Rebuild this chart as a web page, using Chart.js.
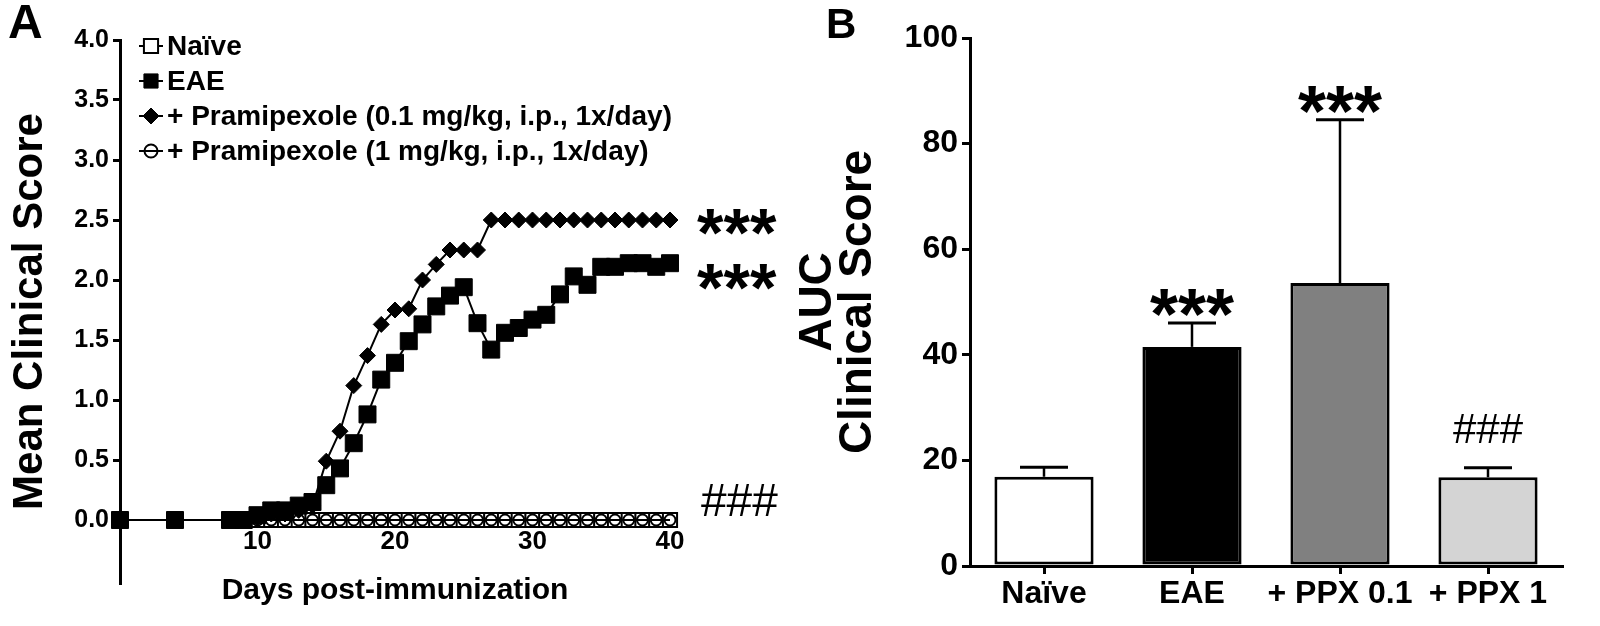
<!DOCTYPE html>
<html>
<head>
<meta charset="utf-8">
<script src="https://cdn.jsdelivr.net/npm/chart.js@4.4.1/dist/chart.umd.min.js"></script>
<style>
  html, body { margin: 0; padding: 0; background: #fff; }
  #wrap { position: relative; width: 1600px; height: 626px; }
  #boxA { position: absolute; left: 0; top: 0; width: 790px; height: 626px; }
  #boxB { position: absolute; left: 790px; top: 0; width: 810px; height: 626px; }
</style>
</head>
<body>
<div id="wrap">
  <div id="boxA"><canvas id="chartA"></canvas></div>
  <div id="boxB"><canvas id="chartB"></canvas></div>
</div>
<script>
const FONT = '"Liberation Sans", Arial, Helvetica, sans-serif';

// ---- panel A: clinical score over time ----
const days = [0, 4, 8, 9, 10, 11, 12, 13, 14, 15, 16, 17, 18, 19, 20, 21, 22, 23, 24, 25, 26, 27, 28, 29, 30, 31, 32, 33, 34, 35, 36, 37, 38, 39, 40];
const naive = [0, 0, 0, 0, 0, 0, 0, 0, 0, 0, 0, 0, 0, 0, 0, 0, 0, 0, 0, 0, 0, 0, 0, 0, 0, 0, 0, 0, 0, 0, 0, 0, 0, 0, 0];
const eae = [0, 0, 0, 0, 0.04, 0.08, 0.08, 0.12, 0.15, 0.29, 0.43, 0.64, 0.88, 1.17, 1.31, 1.49, 1.63, 1.78, 1.87, 1.94, 1.64, 1.42, 1.56, 1.60, 1.67, 1.71, 1.88, 2.03, 1.96, 2.11, 2.11, 2.14, 2.14, 2.11, 2.14];
const ppxLow = [0, 0, 0, 0, 0.02, 0.05, 0.05, 0.08, 0.12, 0.49, 0.74, 1.12, 1.37, 1.63, 1.75, 1.76, 2.00, 2.13, 2.25, 2.25, 2.25, 2.50, 2.50, 2.50, 2.50, 2.50, 2.50, 2.50, 2.50, 2.50, 2.50, 2.50, 2.50, 2.50, 2.50];
const ppxHigh = [0, 0, 0, 0, 0, 0, 0, 0, 0, 0, 0, 0, 0, 0, 0, 0, 0, 0, 0, 0, 0, 0, 0, 0, 0, 0, 0, 0, 0, 0, 0, 0, 0, 0, 0];
const seriesNamesA = ['Naïve', 'EAE', '+ Pramipexole (0.1 mg/kg, i.p., 1x/day)', '+ Pramipexole (1 mg/kg, i.p., 1x/day)'];
const yTicksA = [0, 0.5, 1, 1.5, 2, 2.5, 3, 3.5, 4];
const xTicksA = [10, 20, 30, 40];
const sigTextA = ['***', '***', '###'];
const sigValueA = [2.53, 2.07, 0.17];

// ---- panel B: area under the curve ----
const groupsB = ['Naïve', 'EAE', '+ PPX 0.1', '+ PPX 1'];
const aucMean = [16.9, 41.5, 53.6, 16.8];
const aucUpper = [18.7, 46.0, 84.5, 18.6];
const sigTextB = ['', '***', '***', '###'];
const yTicksB = [0, 20, 40, 60, 80, 100];

Chart.defaults.font.family = FONT;
Chart.defaults.color = '#000';

function toPoints(values) {
  return days.map(function (d, i) { return { x: d, y: values[i] }; });
}

function isStars(t) { return t.charAt(0) === '*'; }

const panelA = {
  id: 'panelA',
  afterDraw: function (chart) {
    const ctx = chart.ctx;
    const area = chart.chartArea;
    const y = chart.scales.y;
    ctx.save();
    ctx.fillStyle = '#000';
    ctx.font = 'bold 48px ' + FONT;
    ctx.textAlign = 'left';
    ctx.textBaseline = 'alphabetic';
    ctx.fillText('A', 8, 38);

    // legend
    chart.data.datasets.forEach(function (ds, i) {
      const ly = 46 + i * 35;
      ctx.strokeStyle = '#000';
      ctx.lineWidth = 2;
      ctx.beginPath();
      ctx.moveTo(139, ly);
      ctx.lineTo(163, ly);
      ctx.stroke();
      ctx.fillStyle = ds.pointBackgroundColor;
      ctx.lineWidth = ds.pointBorderWidth;
      Chart.helpers.drawPoint(ctx, {
        pointStyle: ds.pointStyle,
        radius: ds.legendRadius,
        borderWidth: ds.pointBorderWidth,
        rotation: 0
      }, 151, ly);
      ctx.fillStyle = '#000';
      ctx.font = 'bold 28px ' + FONT;
      ctx.textBaseline = 'middle';
      ctx.fillText(ds.label, 167, ly + 1);
    });

    // significance marks
    ctx.textBaseline = 'alphabetic';
    ctx.textAlign = 'left';
    sigTextA.forEach(function (t, i) {
      const py = y.getPixelForValue(sigValueA[i]);
      if (isStars(t)) {
        ctx.font = 'bold 68px ' + FONT;
        ctx.fillText(t, area.right + 27, py + 0.58 * 68);
      } else {
        ctx.font = '46px ' + FONT;
        ctx.fillText(t, area.right + 31, py + 0.36 * 46);
      }
    });
    ctx.restore();
  }
};

new Chart(document.getElementById('chartA'), {
  type: 'line',
  data: {
    datasets: [
      {
        label: seriesNamesA[0],
        data: toPoints(naive),
        order: 3,
        borderColor: '#000',
        borderWidth: 2,
        pointStyle: 'rect',
        pointRadius: 10,
        legendRadius: 10,
        pointBackgroundColor: '#fff',
        pointBorderColor: '#000',
        pointBorderWidth: 2,
        clip: false
      },
      {
        label: seriesNamesA[1],
        data: toPoints(eae),
        order: 0,
        borderColor: '#000',
        borderWidth: 2,
        pointStyle: 'rect',
        pointRadius: 12,
        legendRadius: 10,
        pointBackgroundColor: '#000',
        pointBorderColor: '#000',
        pointBorderWidth: 1,
        clip: false
      },
      {
        label: seriesNamesA[2],
        data: toPoints(ppxLow),
        order: 1,
        borderColor: '#000',
        borderWidth: 2,
        pointStyle: 'rectRot',
        pointRadius: 8,
        legendRadius: 8,
        pointBackgroundColor: '#000',
        pointBorderColor: '#000',
        pointBorderWidth: 1,
        clip: false
      },
      {
        label: seriesNamesA[3],
        data: toPoints(ppxHigh),
        order: 2,
        borderColor: '#000',
        borderWidth: 2,
        pointStyle: 'circle',
        pointRadius: 5.5,
        legendRadius: 6.5,
        pointBackgroundColor: 'rgba(255,255,255,0)',
        pointBorderColor: '#000',
        pointBorderWidth: 2,
        clip: false
      }
    ]
  },
  options: {
    responsive: true,
    maintainAspectRatio: false,
    animation: false,
    layout: { padding: { top: 40, right: 120, bottom: 43, left: 0 } },
    plugins: { legend: { display: false }, tooltip: { enabled: false } },
    scales: {
      x: {
        type: 'linear',
        min: 0,
        max: 40,
        position: { y: 0 },
        border: { display: false },
        grid: { display: false, drawTicks: false },
        afterBuildTicks: function (s) { s.ticks = xTicksA.map(function (v) { return { value: v }; }); },
        ticks: { font: { size: 26, weight: 'bold' }, padding: 6, maxRotation: 0 },
        title: {
          display: true,
          text: 'Days post-immunization',
          font: { size: 30, weight: 'bold' },
          padding: { top: 10, bottom: 0 }
        }
      },
      y: {
        min: -0.525,
        max: 4,
        border: { color: '#000', width: 3 },
        grid: { drawOnChartArea: false, color: '#000', lineWidth: 3, tickLength: 7 },
        afterBuildTicks: function (s) { s.ticks = yTicksA.map(function (v) { return { value: v }; }); },
        afterFit: function (s) { s.width = 120; },
        ticks: {
          font: { size: 25, weight: 'bold' },
          padding: 4,
          callback: function (v) { return v.toFixed(1); }
        },
        title: {
          display: true,
          text: 'Mean Clinical Score',
          font: { size: 42, weight: 'bold' },
          padding: { top: 5, bottom: 0 }
        }
      }
    }
  },
  plugins: [panelA]
});

const panelB = {
  id: 'panelB',
  afterDatasetsDraw: function (chart) {
    const ctx = chart.ctx;
    const y = chart.scales.y;
    const bars = chart.getDatasetMeta(0).data;
    ctx.save();
    ctx.strokeStyle = '#000';
    bars.forEach(function (bar, i) {
      const top = y.getPixelForValue(aucUpper[i]);
      const base = y.getPixelForValue(aucMean[i]);
      ctx.lineWidth = 2.5;
      ctx.beginPath();
      ctx.moveTo(bar.x, base);
      ctx.lineTo(bar.x, top);
      ctx.stroke();
      ctx.lineWidth = 3;
      ctx.beginPath();
      ctx.moveTo(bar.x - 24, top);
      ctx.lineTo(bar.x + 24, top);
      ctx.stroke();
    });
    ctx.restore();
  },
  afterDraw: function (chart) {
    const ctx = chart.ctx;
    const y = chart.scales.y;
    const bars = chart.getDatasetMeta(0).data;
    ctx.save();
    ctx.fillStyle = '#000';
    ctx.font = 'bold 42px ' + FONT;
    ctx.textAlign = 'left';
    ctx.textBaseline = 'alphabetic';
    ctx.fillText('B', 36, 38);
    ctx.textAlign = 'center';
    sigTextB.forEach(function (t, i) {
      if (!t) return;
      const top = y.getPixelForValue(aucUpper[i]);
      if (isStars(t)) {
        ctx.font = 'bold 72px ' + FONT;
        ctx.fillText(t, bars[i].x, top - 26 + 0.58 * 72);
      } else {
        ctx.font = '42px ' + FONT;
        ctx.fillText(t, bars[i].x, top - 40 + 0.36 * 42);
      }
    });
    ctx.restore();
  }
};

new Chart(document.getElementById('chartB'), {
  type: 'bar',
  data: {
    labels: groupsB,
    datasets: [{
      data: aucMean,
      backgroundColor: ['#ffffff', '#000000', '#808080', '#d4d4d4'],
      borderColor: '#000',
      borderWidth: 3,
      borderSkipped: false,
      barPercentage: 0.67,
      categoryPercentage: 1
    }]
  },
  options: {
    responsive: true,
    maintainAspectRatio: false,
    animation: false,
    layout: { padding: { top: 38, right: 38, bottom: 0, left: 0 } },
    plugins: { legend: { display: false }, tooltip: { enabled: false } },
    scales: {
      x: {
        border: { color: '#000', width: 3 },
        grid: { drawOnChartArea: false, offset: false, color: '#000', lineWidth: 3, tickLength: 8 },
        ticks: { font: { size: 32, weight: 'bold' }, padding: 1, maxRotation: 0 },
        afterFit: function (s) { s.height = 60; }
      },
      y: {
        min: 0,
        max: 100,
        border: { color: '#000', width: 3 },
        grid: { drawOnChartArea: false, color: '#000', lineWidth: 3, tickLength: 8 },
        afterBuildTicks: function (s) { s.ticks = yTicksB.map(function (v) { return { value: v }; }); },
        afterFit: function (s) { s.width = 180; },
        ticks: { font: { size: 32, weight: 'bold' }, padding: 4 },
        title: {
          display: true,
          text: ['AUC', 'Clinical Score'],
          font: { size: 46, weight: 'bold', lineHeight: 0.87 },
          padding: { top: 8, bottom: 0 }
        }
      }
    }
  },
  plugins: [panelB]
});
</script>
</body>
</html>
